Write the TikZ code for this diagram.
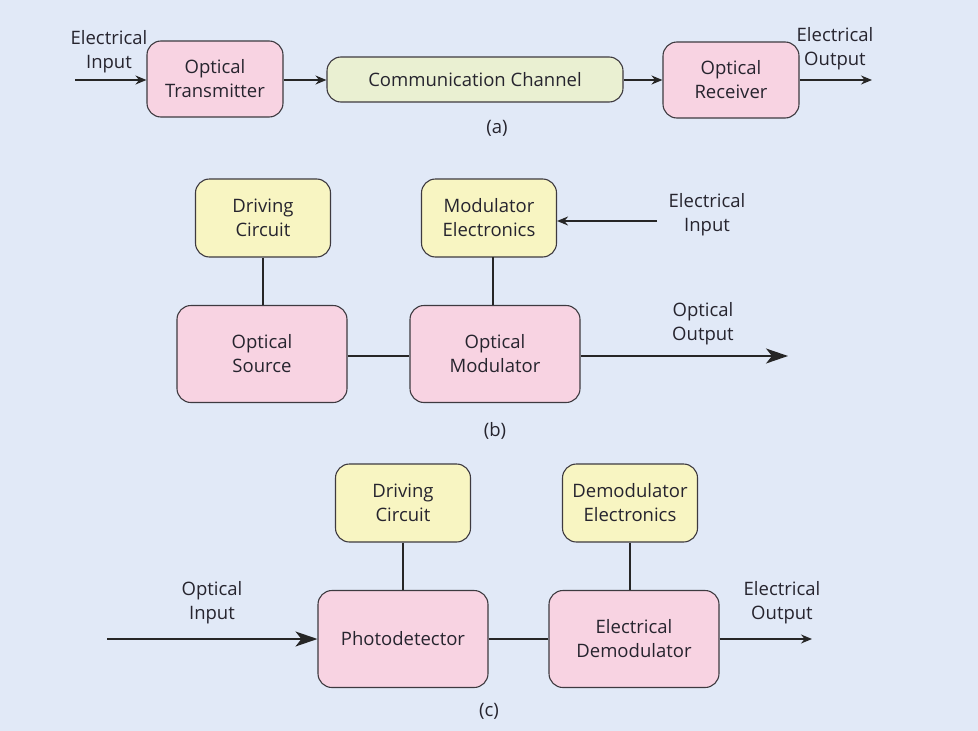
\documentclass[tikz,border=0pt]{standalone}
\usepackage{fontspec}
\setmainfont{Open Sans}
\usepackage{xcolor}
\usetikzlibrary{arrows.meta}

\definecolor{bgblue}{HTML}{E1E9F7}
\definecolor{boxpink}{HTML}{F8D3E2}
\definecolor{boxyellow}{HTML}{F8F5C2}
\definecolor{boxgreen}{HTML}{EAF0D2}
\definecolor{edgegray}{HTML}{3E3A40}
\definecolor{txtgray}{HTML}{26242E}

\begin{document}
\begin{tikzpicture}[x=1pt, y=-1pt,
      every node/.style = {font=\fontsize{18.5}{24}\selectfont, text=txtgray, align=center},
      blk/.style = {draw=edgegray, line width=1.1pt, rounded corners=14pt, inner sep=0pt},
      pinkbox/.style = {blk, fill=boxpink, minimum width=136pt, minimum height=76pt},
      bigbox/.style = {blk, fill=boxpink, minimum width=170pt, minimum height=97pt},
      yelbox/.style = {blk, fill=boxyellow, minimum width=135pt, minimum height=78pt},
      chanbox/.style = {blk, fill=boxgreen, minimum width=296pt, minimum height=45pt},
      lnk/.style = {line width=1.5pt, draw=black!85},
      arr/.style = {lnk, -{Stealth[length=11pt, width=9pt]}},
      bigarr/.style = {lnk, -{Stealth[length=22pt, width=15pt, inset=6pt]}},
      lbl/.style = {inner sep=0pt}]
      \useasboundingbox[fill=bgblue] (0,0) rectangle (978,731);

      % (a)
      \node[pinkbox] (tx) at (215,79) {Optical\\Transmitter};
      \node[chanbox] (chan) at (475,79.5) {Communication Channel};
      \node[pinkbox] (rx) at (731,80) {Optical\\Receiver};
      \coordinate (ain) at (75,80);
      \coordinate (aout) at (872,80);
      \node[lbl] (ainlbl) at (109,52) {Electrical\\Input};
      \node[lbl] (aoutlbl) at (835,49) {Electrical\\Output};
      \node[lbl] (capa) at (497,128) {(a)};
      \draw[arr] (ain) -- (tx.west |- ain);
      \draw[arr] (tx.east |- ain) -- (chan.west |- ain);
      \draw[arr] (chan.east |- ain) -- (rx.west |- ain);
      \draw[arr] (rx.east |- ain) -- (aout);

      % (b)
      \node[yelbox] (drvb) at (263,218) {Driving\\Circuit};
      \node[yelbox] (model) at (489,218) {Modulator\\Electronics};
      \node[bigbox] (src) at (262,354) {Optical\\Source};
      \node[bigbox] (mod) at (495,354) {Optical\\Modulator};
      \coordinate (bin) at (657,221);
      \coordinate (bout) at (788,356);
      \node[lbl] (binlbl) at (707,215) {Electrical\\Input};
      \node[lbl] (boutlbl) at (703,324) {Optical\\Output};
      \node[lbl] (capb) at (495,431) {(b)};
      \draw[lnk] (drvb.south) -- (drvb.south |- src.north);
      \draw[lnk] (493,257) -- (mod.north -| 493,0);
      \draw[lnk] (src.east |- bout) -- (mod.west |- bout);
      \draw[arr] (bin) -- (model.east |- bin);
      \draw[bigarr] (mod.east |- bout) -- (bout);

      % (c)
      \node[yelbox] (drvc) at (403,503) {Driving\\Circuit};
      \node[yelbox] (demel) at (630,503) {Demodulator\\Electronics};
      \node[bigbox] (pd) at (403,639) {Photodetector};
      \node[bigbox] (edem) at (634,639) {Electrical\\Demodulator};
      \coordinate (cin) at (107,639);
      \coordinate (cout) at (812,639);
      \node[lbl] (cinlbl) at (212,603) {Optical\\Input};
      \node[lbl] (coutlbl) at (782,603) {Electrical\\Output};
      \node[lbl] (capc) at (489,711) {(c)};
      \draw[lnk] (drvc.south) -- (drvc.south |- pd.north);
      \draw[lnk] (demel.south) -- (demel.south |- edem.north);
      \draw[lnk] (pd.east) -- (edem.west);
      \draw[bigarr] (cin) -- (pd.west);
      \draw[arr] (edem.east) -- (cout);
\end{tikzpicture}
\end{document}
